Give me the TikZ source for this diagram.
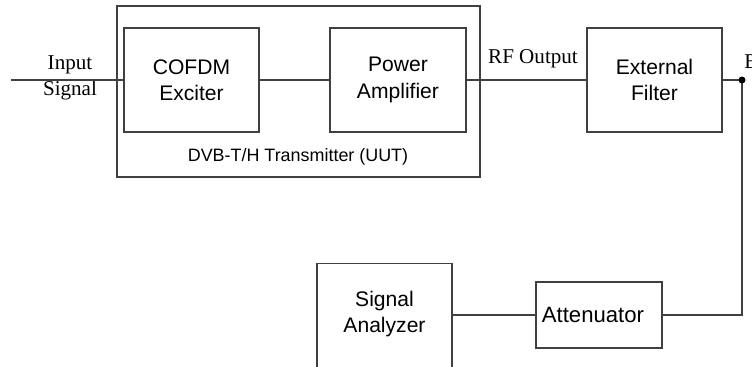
\documentclass[tikz,border=0pt]{standalone}
\usepackage{fontspec}
\setmainfont{Liberation Serif}
\setsansfont{Liberation Sans}
\usetikzlibrary{positioning,calc}

\tikzset{
  block/.style={draw=black!75, line width=0.7pt, align=center,
    font=\sffamily\fontsize{12}{15}\selectfont, inner sep=0pt},
  caption/.style={align=center, font=\sffamily\fontsize{12}{15}\selectfont, inner sep=0pt},
  wire/.style={draw=black!75, line width=0.7pt},
  note/.style={align=center, font=\fontsize{12}{15}\selectfont, inner sep=0pt}
}

\begin{document}
\begin{tikzpicture}[x=0.02cm, y=-0.02cm]
    \useasboundingbox (0,0) rectangle (752,366);

    % Transmitter under test
    \node[block, minimum width=7.26cm, minimum height=3.42cm] (uut) at (298.5,91.5) {};
    \node[caption, font=\sffamily\fontsize{10.2}{12}\selectfont] (uutlbl) at (298,157) {DVB-T/H Transmitter (UUT)};
    \node[block, minimum width=2.7cm, minimum height=2.08cm] (cofdm) at (191.5,80) {COFDM\\Exciter};
    \node[block, minimum width=2.72cm, minimum height=2.08cm] (pa) at (398,80) {Power\\Amplifier};

    % Filter and tap
    \node[block, minimum width=2.7cm, minimum height=2.08cm] (filt) at (654.5,80) {External\\Filter};
    \coordinate (tap) at (742,80);
    \coordinate (in) at (11,80);

    % Measurement chain
    \node[block, minimum width=2.52cm, minimum height=1.32cm] (att) at (599,315) {};
    \node[caption, font=\sffamily\fontsize{12.6}{15}\selectfont] (attlbl) at (593,315) {Attenuator};
    \node[block, minimum width=2.7cm, minimum height=2.6cm, anchor=north] (sa) at (384.5,263) {};
    \node[caption] (salbl) at (384.5,314) {Signal\\Analyzer};

    % Labels
    \node[note] (inlbl) at (70,78) {Input\\Signal};
    \node[note] (rflbl) at (533,59) {RF Output};
    \node[note, anchor=west] (tplbl) at (744,62) {B};

    % Connections
    \draw[wire] (in) -- (cofdm.west);
    \draw[wire] (cofdm.east) -- (pa.west);
    \draw[wire] (pa.east) -- (filt.west);
    \draw[wire] (filt.east) -- (tap);
    \draw[wire] (tap) |- (att.east);
    \draw[wire] (att.west) -- (sa.east |- att.west);
    \fill[black] (tap) circle (0.07cm);
\end{tikzpicture}
\end{document}
